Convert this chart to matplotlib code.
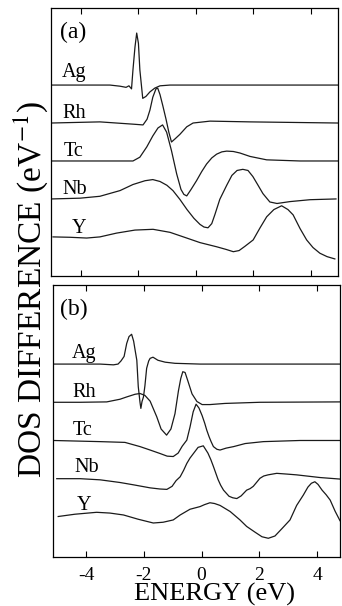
import numpy as np
import matplotlib.pyplot as plt

plt.rcParams['font.family'] = ['Liberation Serif', 'DejaVu Serif']
plt.rcParams['mathtext.fontset'] = 'stix'
plt.rcParams['axes.unicode_minus'] = False

metals = ['Ag', 'Rh', 'Tc', 'Nb', 'Y']
offsets = [0, -1, -2, -3, -4]
ticks = [-4, -2, 0, 2, 4]

# panel (a)
a_ag_x = [-5.04, -2.99, -2.64, -2.43, -2.33, -2.24, -2.19, -2.12, -2.06, -2.0, -1.95, -1.85, -1.74, -1.6, -1.43, -1.25, -0.9, 4.94]
a_ag_y = [0, 0, -0.03, -0.06, -0.02, -0.1, 0.4, 1.0, 1.37, 1.1, 0.4, -0.35, -0.3, -0.18, -0.08, -0.02, 0, 0]
a_rh_x = [-5.04, -3.34, -2.19, -1.84, -1.70, -1.6, -1.5, -1.39, -1.33, -1.25, -1.15, -1.04, -0.94, -0.85, -0.73, -0.56, -0.32, -0.10, 0.49, 1.88, 4.94]
a_rh_y = [0, 0.03, -0.03, -0.05, 0.1, 0.34, 0.68, 0.9, 0.92, 0.75, 0.45, 0.1, -0.25, -0.5, -0.42, -0.3, -0.1, 0.0, 0.05, 0.03, 0]
a_tc_x = [-5.04, -3.34, -2.47, -2.19, -1.95, -1.71, -1.5, -1.32, -1.16, -1.02, -0.85, -0.67, -0.52, -0.42, -0.32, -0.17, 0.02, 0.2, 0.37, 0.55, 0.72, 0.9, 1.07, 1.3, 1.53, 1.88, 2.46, 3.62, 4.94]
a_tc_y = [0, 0, 0, 0, 0.1, 0.37, 0.66, 0.87, 0.95, 0.76, 0.27, -0.34, -0.75, -0.88, -0.92, -0.75, -0.52, -0.28, -0.08, 0.08, 0.18, 0.24, 0.26, 0.25, 0.21, 0.12, 0.03, 0, 0]
a_nb_x = [-5.02, -4.03, -3.34, -2.64, -2.19, -1.77, -1.5, -1.25, -1.01, -0.8, -0.56, -0.31, -0.07, 0.14, 0.28, 0.42, 0.55, 0.66, 0.83, 1.07, 1.25, 1.43, 1.63, 1.81, 1.98, 2.16, 2.33, 2.57, 2.82, 3.27, 3.97, 4.87]
a_nb_y = [0, 0.02, 0.07, 0.22, 0.38, 0.48, 0.51, 0.46, 0.36, 0.22, -0.01, -0.28, -0.51, -0.67, -0.74, -0.76, -0.65, -0.41, -0.01, 0.36, 0.62, 0.75, 0.78, 0.75, 0.59, 0.36, 0.14, -0.08, -0.12, -0.07, -0.02, 0]
a_y_x = [-4.97, -4.38, -3.8, -3.34, -2.76, -2.12, -1.49, -0.9, -0.32, 0.14, 0.72, 1.05, 1.3, 1.5, 1.7, 1.99, 2.23, 2.46, 2.71, 2.98, 3.2, 3.38, 3.62, 3.85, 4.07, 4.31, 4.56, 4.83]
a_y_y = [0, -0.01, -0.03, 0.0, 0.1, 0.18, 0.2, 0.12, -0.03, -0.15, -0.26, -0.33, -0.39, -0.36, -0.25, -0.08, 0.24, 0.53, 0.72, 0.82, 0.72, 0.58, 0.22, -0.08, -0.28, -0.43, -0.52, -0.58]

# panel (b)
b_ag_x = [-5.13, -3.51, -3.05, -2.89, -2.79, -2.68, -2.59, -2.51, -2.42, -2.35, -2.30, -2.24, -2.19, -2.13, -2.10, -2.06, -2.01, -1.96, -1.90, -1.83, -1.78, -1.68, -1.51, -1.26, -0.92, -0.05, 4.79]
b_ag_y = [0, 0, -0.02, 0, 0.08, 0.2, 0.54, 0.72, 0.78, 0.6, 0.37, 0.1, -0.59, -1.0, -1.16, -0.98, -0.86, -0.57, -0.11, 0.08, 0.15, 0.18, 0.1, 0.05, 0.02, 0, 0]
b_rh_x = [-5.13, -4.2, -3.28, -2.82, -2.59, -2.30, -2.13, -1.96, -1.78, -1.55, -1.40, -1.21, -1.06, -0.92, -0.80, -0.72, -0.65, -0.57, -0.47, -0.33, -0.16, 0.02, 0.29, 0.81, 2.02, 4.79]
b_rh_y = [0, 0, 0.01, 0.08, 0.14, 0.21, 0.23, 0.18, 0.03, -0.38, -0.7, -0.86, -0.7, -0.3, 0.3, 0.62, 0.8, 0.78, 0.55, 0.22, 0.02, -0.06, -0.06, -0.03, 0.0, 0.01]
b_tc_x = [-5.13, -3.51, -2.65, -2.13, -1.78, -1.44, -1.19, -0.98, -0.81, -0.67, -0.51, -0.40, -0.29, -0.19, -0.09, 0.02, 0.11, 0.18, 0.26, 0.33, 0.41, 0.53, 0.64, 0.85, 1.11, 1.51, 2.14, 3.41, 4.79]
b_tc_y = [0, -0.03, -0.05, -0.16, -0.25, -0.34, -0.41, -0.42, -0.33, -0.15, 0.01, 0.35, 0.75, 0.95, 0.85, 0.65, 0.45, 0.27, 0.1, -0.03, -0.16, -0.23, -0.25, -0.2, -0.16, -0.08, -0.03, 0, 0]
b_nb_x = [-5.01, -4.2, -3.51, -2.82, -2.36, -1.78, -1.44, -1.20, -1.02, -0.88, -0.74, -0.62, -0.51, -0.40, -0.28, -0.12, 0.06, 0.22, 0.32, 0.41, 0.57, 0.66, 0.76, 0.95, 1.08, 1.22, 1.37, 1.56, 1.68, 1.79, 1.9, 2.02, 2.15, 2.30, 2.60, 2.96, 3.29, 4.10, 4.79]
b_nb_y = [0, 0, -0.03, -0.1, -0.16, -0.24, -0.27, -0.28, -0.2, -0.05, 0.05, 0.22, 0.4, 0.54, 0.66, 0.82, 0.86, 0.67, 0.5, 0.32, -0.02, -0.17, -0.3, -0.46, -0.5, -0.52, -0.45, -0.3, -0.26, -0.2, -0.1, 0.01, 0.07, 0.1, 0.14, 0.12, 0.1, 0.03, -0.01]
b_y_x = [-4.96, -4.38, -3.63, -3.17, -2.70, -2.20, -1.67, -1.33, -0.98, -0.74, -0.40, -0.2, -0.05, 0.1, 0.29, 0.45, 0.64, 0.99, 1.33, 1.56, 1.85, 2.09, 2.31, 2.54, 2.79, 3.06, 3.29, 3.52, 3.68, 3.8, 3.92, 4.03, 4.17, 4.31, 4.45, 4.62, 4.79]
b_y_y = [0.01, 0.07, 0.12, 0.1, 0.05, -0.06, -0.16, -0.14, -0.08, 0.05, 0.2, 0.24, 0.27, 0.32, 0.37, 0.35, 0.3, 0.14, -0.08, -0.25, -0.4, -0.52, -0.56, -0.5, -0.3, -0.08, 0.3, 0.57, 0.78, 0.88, 0.92, 0.85, 0.7, 0.58, 0.44, 0.15, -0.1]

a_curves = [(a_ag_x, a_ag_y), (a_rh_x, a_rh_y), (a_tc_x, a_tc_y), (a_nb_x, a_nb_y), (a_y_x, a_y_y)]
b_curves = [(b_ag_x, b_ag_y), (b_rh_x, b_rh_y), (b_tc_x, b_tc_y), (b_nb_x, b_nb_y), (b_y_x, b_y_y)]

a_lab_x = [-4.66, -4.63, -4.6, -4.63, -4.31]
a_lab_y = [0.2, 0.12, 0.13, 0.12, 0.1]
b_lab_x = [-4.48, -4.48, -4.45, -4.41, -4.31]
b_lab_y = [0.15, 0.15, 0.14, 0.18, 0.18]

fig = plt.figure(figsize=(3.42, 6.06), dpi=100)
ax_a = fig.add_axes([51/342, 1-276/606, 287/342, 268/606])
ax_b = fig.add_axes([53/342, 1-557/606, 287/342, 272/606])

panels = [
    (ax_a, a_curves, a_lab_x, a_lab_y, (-5.04, 4.94), (-5.03, 2.03), '(a)', -4.73, 1.25),
    (ax_b, b_curves, b_lab_x, b_lab_y, (-5.14, 4.79), (-5.05, 2.07), '(b)', -4.9, 1.28),
]
for ax, curves, lx, ly, xl, yl, tag, tx, ty in panels:
    for (x, y), off, name, px, py in zip(curves, offsets, metals, lx, ly):
        ax.plot(x, np.array(y) + off, color='#1a1a1a', lw=0.9)
        ax.text(px, off + py, name, fontsize=14.5, ha='left', va='baseline')
    ax.text(tx, ty, tag, fontsize=17, ha='left', va='baseline')
    ax.set_xlim(*xl)
    ax.set_ylim(*yl)
    ax.set_xticks(ticks)
    ax.set_yticks([])
    ax.tick_params(axis='x', direction='in', top=True, length=4, width=0.8,
                   labelsize=14, pad=7)
    for s in ax.spines.values():
        s.set_linewidth(0.9)

ax_a.tick_params(labelbottom=False)

fig.text(31/342, 1-290/606, 'DOS DIFFERENCE (eV$^{-1}$)', rotation=90,
         fontsize=24, ha='center', va='center')
fig.text(215/342, 1-594/606, 'ENERGY (eV)', fontsize=19, ha='center', va='center')

fig.savefig('out.png', dpi=100)
